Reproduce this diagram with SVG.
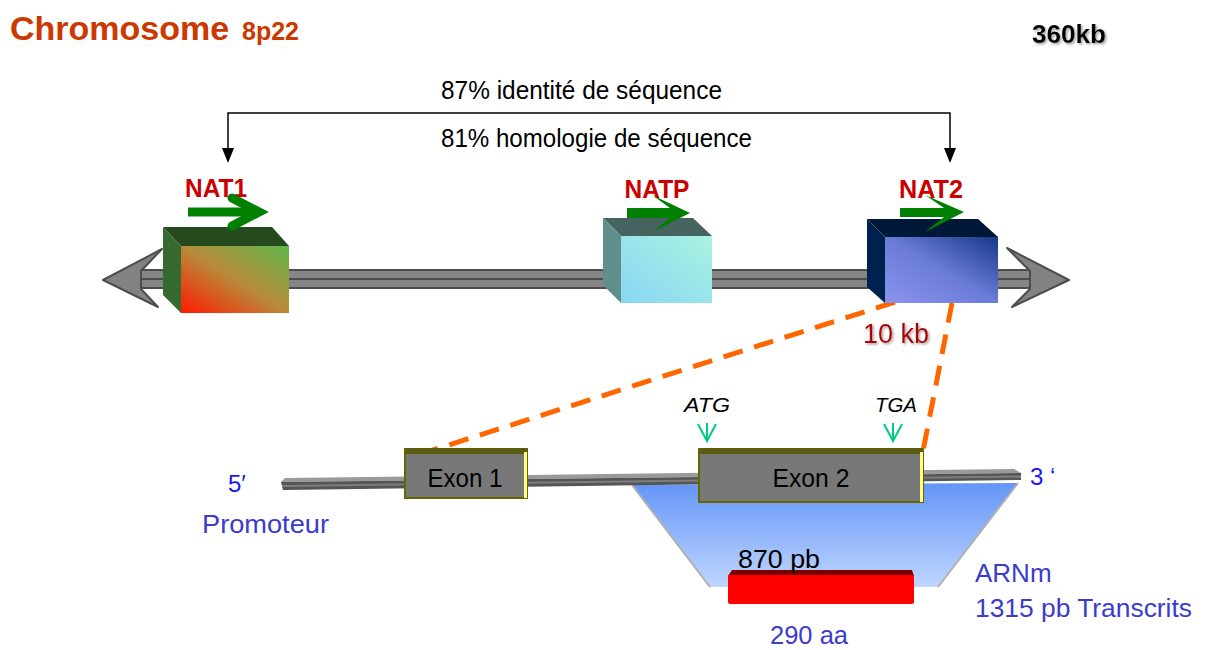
<svg xmlns="http://www.w3.org/2000/svg" width="1207" height="650" viewBox="0 0 1207 650">
<defs>
<style>
.sans{font-family:"Liberation Sans",Arial,sans-serif}
.title{font-family:"Liberation Sans",Arial,sans-serif;font-weight:bold;fill:#cc3800}
.gene{font-family:"Liberation Sans",Arial,sans-serif;font-weight:bold;fill:#cc0000;font-size:25px}
.blue{font-family:"Liberation Sans",Arial,sans-serif;fill:#3b3bcc;font-size:26px}
.exon{font-family:"Liberation Sans",Arial,sans-serif;fill:#000;font-size:26px;text-anchor:middle}
.codon{font-family:"Liberation Sans",Arial,sans-serif;font-style:italic;fill:#000;font-size:20px}
.green{fill:#008000}
.dash{stroke:#ff6600;stroke-width:5;stroke-dasharray:20 12;fill:none}
.mini{stroke:#00cc88;stroke-width:2;fill:none}
.exbox{fill:#787878;stroke:#666600;stroke-width:2}
.head{fill:#000}
</style>
<linearGradient id="g1" x1="0" y1="1" x2="1" y2="0"><stop offset="0" stop-color="#ff1a00"/><stop offset="0.5" stop-color="#b88a3a"/><stop offset="1" stop-color="#5fb84a"/></linearGradient>
<linearGradient id="gp" x1="0" y1="1" x2="1" y2="0"><stop offset="0" stop-color="#88d6f4"/><stop offset="1" stop-color="#aaf2e0"/></linearGradient>
<linearGradient id="g2" x1="0" y1="1" x2="1" y2="0"><stop offset="0" stop-color="#8a94ee"/><stop offset="0.5" stop-color="#6b7cd6"/><stop offset="1" stop-color="#163888"/></linearGradient>
<linearGradient id="gm" x1="0" y1="0" x2="0" y2="1"><stop offset="0" stop-color="#6495f7"/><stop offset="1" stop-color="#c0d6ff"/></linearGradient>
<filter id="sh" x="-10%" y="-20%" width="130%" height="150%"><feDropShadow dx="1.5" dy="1.5" stdDeviation="1" flood-color="#888" flood-opacity="0.8"/></filter>
</defs>
<rect width="1207" height="650" fill="#fff"/>

<g id="title">
<text class="title" x="10" y="40" font-size="34">Chromosome</text>
<text class="title" x="242" y="40" font-size="25">8p22</text>
</g>
<g id="scale">
<text class="sans" x="1069" y="43" font-size="25" font-weight="bold" text-anchor="middle" textLength="74" lengthAdjust="spacingAndGlyphs" filter="url(#sh)">360kb</text>
</g>

<g id="chromosome">
<rect x="138" y="270" width="894" height="18" fill="#858585" stroke="#4d4d4d" stroke-width="2"/>
<line x1="138" y1="279" x2="1032" y2="279" stroke="#4d4d4d" stroke-width="2"/>
<polygon points="103,280 162,249 141,271 141,289 158,307" fill="#828282" stroke="#4d4d4d" stroke-width="2" stroke-linejoin="round"/>
<polygon points="1069,280 1007,248 1030,271 1030,289 1012,307" fill="#828282" stroke="#4d4d4d" stroke-width="2" stroke-linejoin="round"/>
</g>

<g id="connectors">
<polyline points="228,150 228,113 950,113 950,150" fill="none" stroke="#000" stroke-width="1.5"/>
<polygon class="head" points="222,148 234,148 228,163"/>
<polygon class="head" points="944,148 956,148 950,163"/>
<line class="dash" x1="895" y1="302" x2="427" y2="452"/>
<line class="dash" x1="952" y1="303" x2="923" y2="451"/>
</g>
<g id="homology-labels">
<text class="sans" x="441" y="99" font-size="25" textLength="281" lengthAdjust="spacingAndGlyphs">87% identité de séquence</text>
<text class="sans" x="441" y="147" font-size="25" textLength="311" lengthAdjust="spacingAndGlyphs">81% homologie de séquence</text>
</g>

<g id="NAT1">
<polygon points="163,227 272,227 289,246 181,246" fill="#244a1e"/>
<polygon points="163,227 181,246 181,313 163,295" fill="#356a30"/>
<rect x="181" y="246" width="108" height="67" fill="url(#g1)"/>
<text class="gene" x="216" y="197" text-anchor="middle" textLength="62" lengthAdjust="spacingAndGlyphs">NAT1</text>
<line x1="188" y1="212" x2="255" y2="212" stroke="#008000" stroke-width="9"/>
<polyline points="232,198 259,212 232,226" fill="none" stroke="#008000" stroke-width="9" stroke-linecap="round" stroke-linejoin="miter"/>
</g>

<g id="NATP">
<polygon points="603,218 693,218 712,236 621,236" fill="#46645f"/>
<polygon points="603,218 621,236 621,303 603,285" fill="#5f8f8a"/>
<rect x="621" y="236" width="91" height="67" fill="url(#gp)"/>
<text class="gene" x="657" y="198" text-anchor="middle" textLength="65" lengthAdjust="spacingAndGlyphs">NATP</text>
<polygon class="green" points="627,208 670,208 652,195 690,213 652,232 670,218 627,218"/>
</g>

<g id="NAT2">
<polygon points="867,219 978,219 998,237 885,237" fill="#001838"/>
<polygon points="867,219 885,237 885,303 867,287" fill="#00204e"/>
<rect x="885" y="237" width="113" height="66" fill="url(#g2)"/>
<text class="gene" x="931" y="198" text-anchor="middle" textLength="64" lengthAdjust="spacingAndGlyphs">NAT2</text>
<polygon class="green" points="900,208 944,208 925,195 964,212 925,232 944,217 900,217"/>
</g>

<g id="size-label">
<text class="sans" x="896" y="343" font-size="27" fill="#b00000" text-anchor="middle" filter="url(#sh)">10 kb</text>
</g>

<g id="mRNA">
<polygon points="632,485 1018,483 938,587 710,587" fill="url(#gm)"/>
<line x1="632" y1="485" x2="710" y2="587" stroke="#b0b0b0" stroke-width="2"/>
<line x1="1018" y1="483" x2="938" y2="587" stroke="#b0b0b0" stroke-width="2"/>
</g>

<g id="dna">
<polygon points="285,478 1014,469 1021,473 281,482" fill="#9a9a9a"/>
<polygon points="281,482 1021,473 1021,480 283,490" fill="#555555"/>
<line x1="282" y1="486" x2="1021" y2="476.5" stroke="#7e7e7e" stroke-width="2"/>
</g>

<g id="exon1">
<rect class="exbox" x="405" y="449" width="122" height="49"/>
<polygon points="407,448 525,448 527,454 405,454" fill="#5a5a10"/>
<rect x="524" y="452" width="3" height="46" fill="#ffff88"/>
<text class="exon" x="465" y="487" textLength="75" lengthAdjust="spacingAndGlyphs">Exon 1</text>
</g>

<g id="exon2">
<rect class="exbox" x="699" y="449" width="224" height="53"/>
<polygon points="701,448 921,448 923,454 699,454" fill="#5a5a10"/>
<rect x="920" y="452" width="3" height="50" fill="#ffff88"/>
<text class="exon" x="811" y="487" textLength="77" lengthAdjust="spacingAndGlyphs">Exon 2</text>
</g>

<g id="codons">
<text class="codon" x="684" y="412" textLength="46" lengthAdjust="spacingAndGlyphs">ATG</text>
<text class="codon" x="875" y="412" textLength="42" lengthAdjust="spacingAndGlyphs">TGA</text>
<path class="mini" d="M707,423 V441 M698,424 L707,441 L716,424"/>
<path class="mini" d="M893,423 V441 M884,424 L893,441 L902,424"/>
</g>

<g id="protein">
<polygon points="732,570 912,570 914,576 728,576" fill="#7a0000"/>
<rect x="728" y="575" width="186" height="29" rx="2" fill="#ff0000"/>
<text class="sans" x="738" y="568" font-size="25" fill="#000" textLength="82" lengthAdjust="spacingAndGlyphs">870 pb</text>
</g>

<g id="labels">
<text class="sans" x="228" y="492" font-size="24" fill="#1a1aee">5′</text>
<text class="blue" x="202" y="533" textLength="127" lengthAdjust="spacingAndGlyphs">Promoteur</text>
<text class="sans" x="1030" y="485" font-size="24" fill="#1a1aee">3 ‘</text>
<text class="blue" x="975" y="582">ARNm</text>
<text class="blue" x="975" y="617" textLength="217" lengthAdjust="spacingAndGlyphs">1315 pb Transcrits</text>
<text class="blue" x="770" y="644" textLength="78" lengthAdjust="spacingAndGlyphs">290 aa</text>
</g>
</svg>
